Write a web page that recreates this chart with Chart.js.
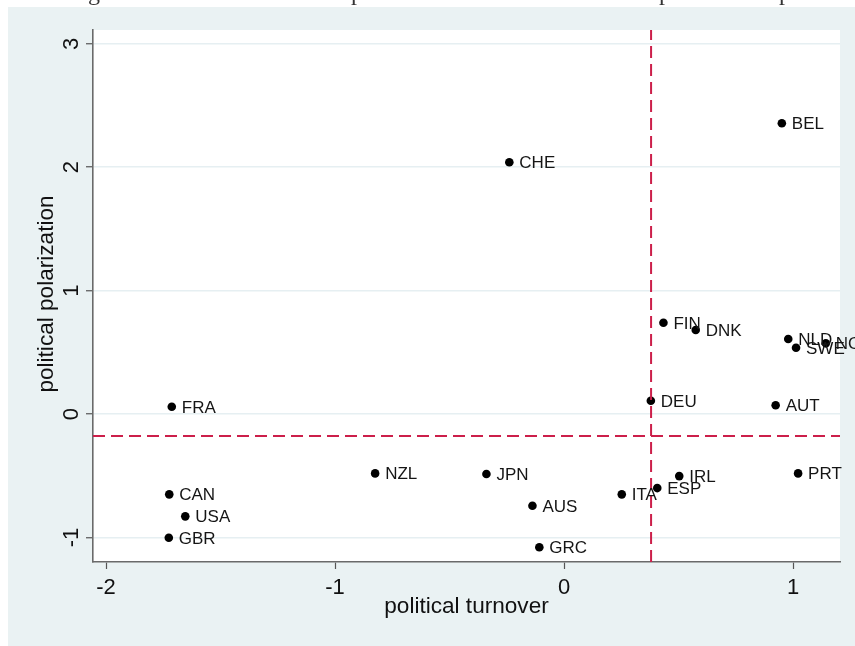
<!DOCTYPE html>
<html><head><meta charset="utf-8">
<script src="https://cdn.jsdelivr.net/npm/chart.js@4.4.1/dist/chart.umd.min.js"></script>
<style>html,body{margin:0;padding:0;background:#fff}canvas{display:block}</style>
</head><body>
<canvas id="c" width="855" height="646"></canvas>
<script>
const countries = ['BEL','CHE','FIN','DNK','NLD','SWE','NOR','DEU','AUT','FRA','NZL','JPN','PRT','IRL','ESP','ITA','AUS','GRC','CAN','USA','GBR'];
const turnover = [0.951,-0.239,0.434,0.575,0.979,1.013,1.143,0.379,0.924,-1.713,-0.825,-0.339,1.022,0.503,0.407,0.252,-0.138,-0.108,-1.724,-1.654,-1.726];
const polarization = [2.356,2.040,0.740,0.681,0.608,0.537,0.573,0.108,0.071,0.059,-0.481,-0.486,-0.481,-0.503,-0.600,-0.651,-0.743,-1.080,-0.651,-0.829,-1.003];
const xTicks = [-2,-1,0,1];
const yTicks = [-1,0,1,2,3];
const meanTurnover = 0.38;
const meanPolarization = -0.178;
const xRange = [-2.057, 1.205];
const yRange = [-1.199, 3.112];
const xTitle = 'political turnover';
const yTitle = 'political polarization';
const captionGlyphs = ['g','p','p','p'];

const FONT = '"Liberation Sans", Arial, sans-serif';
const BG = '#eaf2f3';

const bgPlugin = {
  id: 'bg',
  beforeDraw(chart) {
    const ctx = chart.ctx, ca = chart.chartArea;
    ctx.save();
    ctx.fillStyle = '#fff';
    ctx.fillRect(0, 0, chart.width, chart.height);
    ctx.fillStyle = BG;
    ctx.fillRect(8, 7, chart.width - 8, chart.height - 7);
    ctx.fillStyle = '#fff';
    ctx.fillRect(ca.left, ca.top, ca.right - ca.left, ca.bottom - ca.top);
    // clipped caption line from the page above the figure
    ctx.fillStyle = '#333';
    ctx.font = '24px "Liberation Serif", "DejaVu Serif", serif';
    ctx.textAlign = 'center';
    ctx.textBaseline = 'alphabetic';
    const gx = [94, 357, 665, 785];
    captionGlyphs.forEach((g, i) => ctx.fillText(g, gx[i], 0));
    ctx.restore();
  }
};

const textPlugin = {
  id: 'texts',
  afterDraw(chart) {
    const ctx = chart.ctx, xs = chart.scales.x, ys = chart.scales.y, ca = chart.chartArea;
    ctx.save();
    ctx.fillStyle = '#111';
    ctx.font = '22px ' + FONT;
    ctx.textAlign = 'center';
    ctx.textBaseline = 'alphabetic';
    xTicks.forEach(v => ctx.fillText(String(v), xs.getPixelForValue(v), ca.bottom + 32));
    yTicks.forEach(v => {
      ctx.save();
      ctx.translate(ca.left - 15, ys.getPixelForValue(v));
      ctx.rotate(-Math.PI / 2);
      ctx.fillText(String(v), 0, 0);
      ctx.restore();
    });
    ctx.font = '22.6px ' + FONT;
    ctx.fillText(xTitle, (ca.left + ca.right) / 2, ca.bottom + 51);
    ctx.save();
    ctx.translate(ca.left - 40, (ca.top + ca.bottom) / 2 - 2);
    ctx.rotate(-Math.PI / 2);
    ctx.fillText(yTitle, 0, 0);
    ctx.restore();
    ctx.font = '17px ' + FONT;
    ctx.textAlign = 'left';
    ctx.fillStyle = '#151515';
    const meta = chart.getDatasetMeta(2);
    meta.data.forEach((pt, i) => ctx.fillText(countries[i], pt.x + 10, pt.y + 6));
    ctx.restore();
  }
};

new Chart(document.getElementById('c'), {
  type: 'scatter',
  data: {
    datasets: [
      {
        data: [{x: meanTurnover, y: yRange[0]}, {x: meanTurnover, y: yRange[1]}],
        showLine: true, borderColor: '#cc1f4a', borderWidth: 2, borderDash: [12, 6],
        pointRadius: 0, fill: false
      },
      {
        data: [{x: xRange[0], y: meanPolarization}, {x: xRange[1], y: meanPolarization}],
        showLine: true, borderColor: '#cc1f4a', borderWidth: 2, borderDash: [12, 6],
        pointRadius: 0, fill: false
      },
      {
        data: turnover.map((v, i) => ({x: v, y: polarization[i]})),
        pointRadius: 4.3, pointBackgroundColor: '#000', pointBorderWidth: 0,
        pointHoverRadius: 4.3
      }
    ]
  },
  options: {
    responsive: false,
    animation: false,
    devicePixelRatio: 1,
    layout: {padding: {top: 30, right: 15, left: 0, bottom: 0}},
    plugins: {legend: {display: false}, tooltip: {enabled: false}},
    scales: {
      x: {
        type: 'linear', min: xRange[0], max: xRange[1],
        afterBuildTicks: s => { s.ticks = xTicks.map(v => ({value: v})); },
        afterFit: s => { s.height = 84; },
        ticks: {display: false},
        grid: {drawOnChartArea: false, drawTicks: true, tickLength: 7, tickColor: '#555', tickWidth: 1.2},
        border: {display: true, color: '#6a6a6a', width: 1.6}
      },
      y: {
        type: 'linear', min: yRange[0], max: yRange[1],
        afterBuildTicks: s => { s.ticks = yTicks.map(v => ({value: v})); },
        afterFit: s => { s.width = 93; },
        ticks: {display: false},
        grid: {drawOnChartArea: true, color: '#e6eff2', lineWidth: 1.5, drawTicks: true, tickLength: 7, tickColor: '#555', tickWidth: 1.2},
        border: {display: true, color: '#6a6a6a', width: 1.6}
      }
    }
  },
  plugins: [bgPlugin, textPlugin]
});
</script>
</body></html>
